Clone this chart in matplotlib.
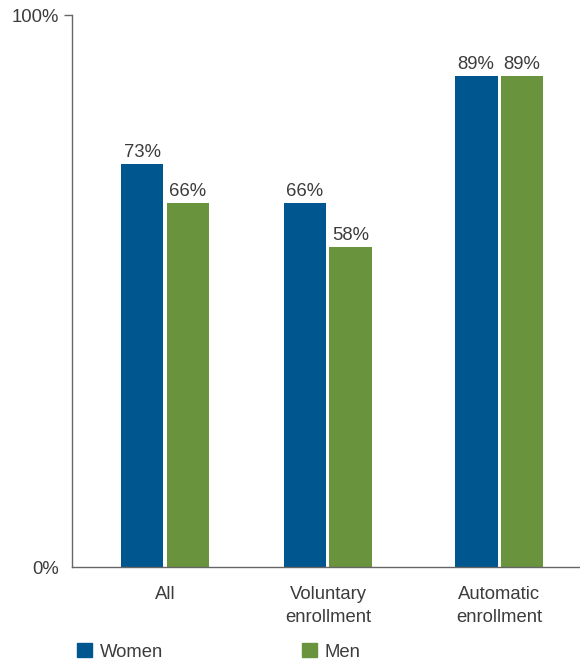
import numpy as np
import matplotlib.pyplot as plt
from matplotlib.patches import Patch

plt.rcParams['font.family'] = ['Liberation Sans', 'DejaVu Sans']

# Participation rates by enrollment type
categories = ['All', 'Voluntary\nenrollment', 'Automatic\nenrollment']
women = [73, 66, 89]
men = [66, 58, 89]
series_names = ['Women', 'Men']
ytick_labels = ['0%', '100%']

blue = '#00578f'
green = '#6a933e'
text_col = '#3c3c3c'
fs = 13.3

fig = plt.figure(figsize=(5.8, 6.62), dpi=100)
ax = fig.add_axes([0.1241, 0.1435, 0.8759, 0.8338])

x = np.array([0, 0.976, 2.0])
w = 0.257
gap = 0.009
bars_w = ax.bar(x - w / 2 - gap, women, width=w, color=blue)
bars_m = ax.bar(x + w / 2 + gap, men, width=w, color=green)

for bars, vals in [(bars_w, women), (bars_m, men)]:
    for b, v in zip(bars, vals):
        ax.text(b.get_x() + b.get_width() / 2, v + 0.5, f'{v}%',
                ha='center', va='bottom', fontsize=fs, color=text_col)

ax.set_xlim(-0.557, 2.485)
ax.set_ylim(0, 100)
ax.set_yticks([0, 100])
ax.set_yticklabels(ytick_labels, fontsize=fs, color=text_col)
ax.set_xticks(x)
ax.set_xticklabels(categories, fontsize=fs, color=text_col, linespacing=1.4)
ax.tick_params(axis='x', length=0, pad=14)
ax.tick_params(axis='y', length=6, width=1, color='#666666', pad=3)
ax.yaxis.get_major_ticks()[0].tick1line.set_visible(False)

for s in ['top', 'right']:
    ax.spines[s].set_visible(False)
for s in ['left', 'bottom']:
    ax.spines[s].set_color('#666666')
    ax.spines[s].set_linewidth(1)

handles = [Patch(color=blue), Patch(color=green)]
fig.legend(handles, series_names, loc='lower left', bbox_to_anchor=(0.104, -0.023),
           ncol=2, frameon=False, fontsize=fs, handlelength=0.8, handleheight=0.8,
           handletextpad=0.45, columnspacing=7.5, labelcolor=text_col)

fig.savefig('out.png', dpi=100)
